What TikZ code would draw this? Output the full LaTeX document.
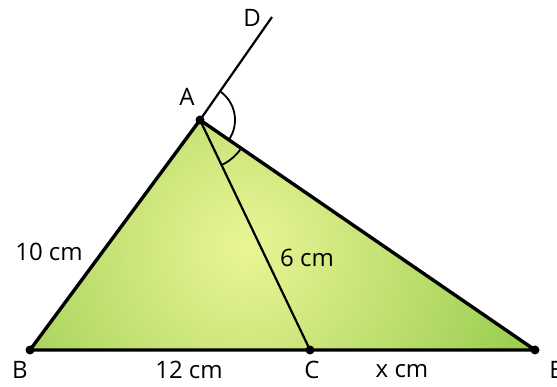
\documentclass[tikz,border=0pt]{standalone}
\usepackage{fontspec}
\setmainfont{Open Sans}
\usetikzlibrary{angles,calc}
\definecolor{gLight}{RGB}{234,245,150}
\definecolor{gDark}{RGB}{104,180,36}
\begin{document}
\begin{tikzpicture}[x=1pt,y=1pt,
  side/.style={line width=3.4pt},
  cev/.style={line width=2.2pt},
  dotpt/.style={circle,fill=black,inner sep=0pt,minimum size=9pt},
  lbl/.style={font=\fontsize{24}{26}\selectfont,inner sep=0pt}]
\useasboundingbox (0,0) rectangle (557,387);
\coordinate (A) at (200,267);
\coordinate (B) at (30,37);
\coordinate (C) at (310,37);
\coordinate (E) at (535,37);
\coordinate (D) at (272,370);
\begin{scope}
\clip (A) -- (B) -- (E) -- cycle;
\shade[inner color=gLight,outer color=gDark] (245,140) circle (480);
\end{scope}
\draw[cev] (A) -- (D);
\draw[cev] (A) -- (C);
\draw[side,line join=round] (A) -- (B) -- (E) -- cycle;
\draw[line width=1.8pt] pic[draw,angle radius=35pt] {angle=E--A--D};
\draw[line width=1.8pt] pic[draw,angle radius=50pt] {angle=C--A--E};
\node[dotpt] (a) at (A) {};
\node[dotpt] (b) at (B) {};
\node[dotpt] (c) at (C) {};
\node[dotpt] (e) at (E) {};
\node[lbl] (la) at (187,290) {A};
\node[lbl] (lb) at (20,17) {B};
\node[lbl] (lc) at (312,17) {C};
\node[lbl] (ld) at (252,369) {D};
\node[lbl] (le) at (556,17) {E};
\node[lbl] (l10) at (49,135) {10 cm};
\node[lbl] (l12) at (189,17) {12 cm};
\node[lbl] (l6) at (307,129) {6 cm};
\node[lbl] (lx) at (402,16) {x cm};
\end{tikzpicture}
\end{document}
